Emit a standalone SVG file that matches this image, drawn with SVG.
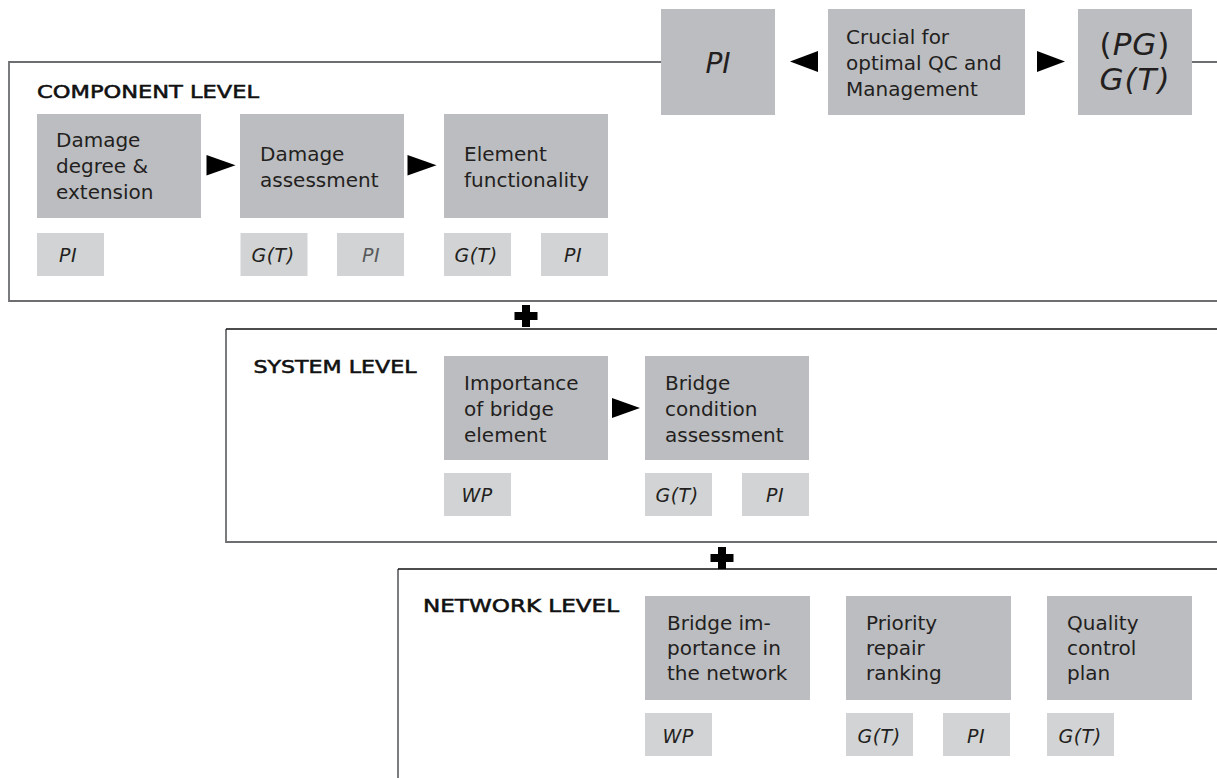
<svg xmlns="http://www.w3.org/2000/svg" width="1217" height="778" viewBox="0 0 1217 778">
<style>
.big{fill:#bcbdc0}
.sm{fill:#d1d3d4}
.t{font-family:"DejaVu Sans","Liberation Sans",sans-serif;font-size:20px;fill:#231f20}
.i{font-family:"DejaVu Sans","Liberation Sans",sans-serif;font-size:19px;font-style:italic;fill:#231f20;text-anchor:middle;letter-spacing:0.5px}
.lvl{font-family:"DejaVu Sans","Liberation Sans",sans-serif;font-size:18px;fill:#111;stroke:#111;stroke-width:0.55px}
.frame{fill:none;stroke:#6d6e71;stroke-width:1.8}
.ftop{fill:none;stroke:#111;stroke-width:1.6}
.arr{fill:#000}
</style>
<rect width="1217" height="778" fill="#fff"/>
<g id="frames">
<path class="frame" d="M661,62 H9 V301 H1230"/>
<path class="frame" d="M1192,62 H1230"/>
<path class="frame" d="M226,329 V542 H1230"/>
<path class="ftop" d="M226,329 H1230"/>
<path class="frame" d="M398,569 V790"/>
<path class="ftop" d="M398,569 H1230"/>
</g>
<g id="component-level">
<text class="lvl" x="37" y="97.5" textLength="222" lengthAdjust="spacingAndGlyphs">COMPONENT LEVEL</text>
</g>
<g id="system-level">
<text class="lvl" x="253.5" y="373" textLength="163" lengthAdjust="spacingAndGlyphs">SYSTEM LEVEL</text>
</g>
<g id="network-level">
<text class="lvl" x="423" y="611.5" textLength="196" lengthAdjust="spacingAndGlyphs">NETWORK LEVEL</text>
</g>

<g id="top-pi">
<rect class="big" x="661" y="9" width="114" height="106"/>
<text x="718" y="73" font-family="DejaVu Sans, sans-serif" font-size="28" font-style="italic" fill="#231f20" text-anchor="middle">PI</text>
</g>
<g id="top-crucial">
<rect class="big" x="828" y="9" width="197" height="106"/>
<text class="t" x="846" y="44">Crucial for</text>
<text class="t" x="846" y="70">optimal QC and</text>
<text class="t" x="846" y="96">Management</text>
</g>
<g id="top-pg">
<rect class="big" x="1078" y="9" width="114" height="106"/>
<text x="1135" y="55" font-family="DejaVu Sans, sans-serif" font-size="31" fill="#231f20" text-anchor="middle" letter-spacing="1">(<tspan font-style="italic">PG</tspan>)</text>
<text x="1135" y="90" font-family="DejaVu Sans, sans-serif" font-size="31" font-style="italic" fill="#231f20" text-anchor="middle" letter-spacing="1">G(T)</text>
</g>

<g id="damage-degree">
<rect class="big" x="37" y="114" width="164" height="104"/>
<text class="t" x="56" y="147">Damage</text>
<text class="t" x="56" y="173">degree &amp;</text>
<text class="t" x="56" y="199">extension</text>
<rect class="sm" x="37" y="233" width="67" height="43"/>
<text class="i" x="68" y="262">PI</text>
</g>
<g id="damage-assessment">
<rect class="big" x="240" y="114" width="164" height="104"/>
<text class="t" x="260" y="160.5">Damage</text>
<text class="t" x="260" y="186.5">assessment</text>
<rect class="sm" x="240.5" y="233" width="67" height="43"/>
<text class="i" x="273" y="262">G(T)</text>
<rect class="sm" x="337" y="233" width="67" height="43"/>
<text class="i" x="371" y="262" style="fill:#58595b">PI</text>
</g>
<g id="element-functionality">
<rect class="big" x="444" y="114" width="164" height="104"/>
<text class="t" x="464" y="160.5">Element</text>
<text class="t" x="464" y="186.5">functionality</text>
<rect class="sm" x="444" y="233" width="67" height="43"/>
<text class="i" x="476" y="262">G(T)</text>
<rect class="sm" x="541" y="233" width="67" height="43"/>
<text class="i" x="573" y="262">PI</text>
</g>

<g id="importance-element">
<rect class="big" x="444" y="356" width="164" height="104"/>
<text class="t" x="464" y="390">Importance</text>
<text class="t" x="464" y="416">of bridge</text>
<text class="t" x="464" y="442">element</text>
<rect class="sm" x="444" y="473" width="67" height="43"/>
<text class="i" x="477" y="502">WP</text>
</g>
<g id="bridge-condition">
<rect class="big" x="645" y="356" width="164" height="104"/>
<text class="t" x="665" y="390">Bridge</text>
<text class="t" x="665" y="416">condition</text>
<text class="t" x="665" y="442">assessment</text>
<rect class="sm" x="645" y="473" width="67" height="43"/>
<text class="i" x="677" y="502">G(T)</text>
<rect class="sm" x="742" y="473" width="67" height="43"/>
<text class="i" x="775" y="502">PI</text>
</g>

<g id="bridge-importance">
<rect class="big" x="645" y="596" width="165" height="104"/>
<text class="t" x="667" y="630">Bridge im-</text>
<text class="t" x="667" y="655">portance in</text>
<text class="t" x="667" y="680">the network</text>
<rect class="sm" x="645" y="713" width="67" height="43"/>
<text class="i" x="678" y="742.5">WP</text>
</g>
<g id="priority-repair">
<rect class="big" x="846" y="596" width="165" height="104"/>
<text class="t" x="866" y="630">Priority</text>
<text class="t" x="866" y="655">repair</text>
<text class="t" x="866" y="680">ranking</text>
<rect class="sm" x="846" y="713" width="67" height="43"/>
<text class="i" x="879" y="742.5">G(T)</text>
<rect class="sm" x="943" y="713" width="67" height="43"/>
<text class="i" x="976" y="742.5">PI</text>
</g>
<g id="quality-control">
<rect class="big" x="1047" y="596" width="145" height="104"/>
<text class="t" x="1067" y="630">Quality</text>
<text class="t" x="1067" y="655">control</text>
<text class="t" x="1067" y="680">plan</text>
<rect class="sm" x="1047" y="713" width="67" height="43"/>
<text class="i" x="1080" y="742.5">G(T)</text>
</g>

<g id="connectors">
<polygon class="arr" points="818,51 818,72 790,61.5"/>
<polygon class="arr" points="1037,51 1037,72 1065,61.5"/>
<polygon class="arr" points="206.5,155 206.5,175.5 235.5,165.2"/>
<polygon class="arr" points="407.5,155 407.5,175.5 436.5,165.2"/>
<polygon class="arr" points="612,398 612,418 640,408"/>
<path class="arr" d="M522,305 h8 v7 h7.5 v8 h-7.5 v7 h-8 v-7 h-7.5 v-8 h7.5 z"/>
<path class="arr" d="M718,547 h8 v7 h7.5 v8 h-7.5 v7 h-8 v-7 h-7.5 v-8 h7.5 z"/>
</g>
</svg>
